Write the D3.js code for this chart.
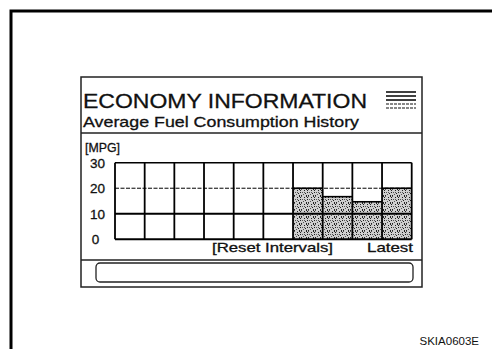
<!DOCTYPE html>
<html>
<head>
<meta charset="utf-8">
<script src="https://cdn.jsdelivr.net/npm/d3@7"></script>
<style>
  html, body { margin: 0; padding: 0; background: #fff; }
  svg { display: block; }
  text { font-family: "Liberation Sans", Arial, Helvetica, sans-serif; fill: #111; }
  text.ink { stroke: #111; stroke-width: 0.3; }
</style>
</head>
<body>
<script>
// Reset intervals shown on the history screen (oldest -> latest)
const intervals = ["1", "2", "3", "4", "5", "6", "7", "8", "9", "10"];
// Average fuel consumption per interval, MPG (0 = no record yet)
const mpgValues = [0, 0, 0, 0, 0, 0, 20, 16.7, 14.7, 20];
// Y axis ticks
const yTicks = [0, 10, 20, 30];
const yTickLabels = ["0", "10", "20", "30"];

const W = 492, H = 349;
const svg = d3.select("body").append("svg").attr("width", W).attr("height", H);

// Stipple texture for filled history bars
const defs = svg.append("defs");
const pat = defs.append("pattern").attr("id", "stipple")
  .attr("patternUnits", "userSpaceOnUse").attr("width", 7).attr("height", 7);
pat.append("rect").attr("width", 7).attr("height", 7).attr("fill", "#cfcfcf");
const dots = [[0,0],[3,1],[5,0],[1,3],[4,4],[6,3],[2,5],[5,6],[0,6],[3,3],[6,1]];
pat.selectAll("rect.d").data(dots).enter().append("rect").attr("class", "d")
  .attr("x", d => d[0]).attr("y", d => d[1]).attr("width", 1).attr("height", 1)
  .attr("fill", (d, i) => i % 3 === 0 ? "#555" : "#222");

// Page frame
svg.append("path").attr("d", "M11,349 V11 H492")
  .attr("fill", "none").attr("stroke", "#000").attr("stroke-width", 3);

// Display screen outline
svg.append("rect").attr("x", 81).attr("y", 77).attr("width", 341).attr("height", 210)
  .attr("fill", "none").attr("stroke", "#222").attr("stroke-width", 1.5);

// Header
svg.append("text").attr("class", "ink").attr("x", 83).attr("y", 108).attr("font-size", 20.5)
  .attr("textLength", 284).attr("lengthAdjust", "spacingAndGlyphs")
  .text("ECONOMY INFORMATION");
// menu icon
const iconY = [92, 96, 100, 104, 108];
svg.append("g").selectAll("line").data(iconY).enter().append("line")
  .attr("x1", 386).attr("x2", 416).attr("y1", d => d).attr("y2", d => d)
  .attr("stroke", "#111").attr("stroke-width", (d, i) => i < 3 ? 1.6 : 1.1)
  .attr("stroke-dasharray", (d, i) => i >= 3 ? "3,1" : null);

svg.append("text").attr("class", "ink").attr("x", 83).attr("y", 127).attr("font-size", 15)
  .attr("textLength", 276).attr("lengthAdjust", "spacingAndGlyphs")
  .text("Average Fuel Consumption History");

// Panel separators
svg.append("line").attr("x1", 81).attr("x2", 422).attr("y1", 133).attr("y2", 133)
  .attr("stroke", "#222").attr("stroke-width", 1.5);
svg.append("line").attr("x1", 81).attr("x2", 422).attr("y1", 260).attr("y2", 260)
  .attr("stroke", "#222").attr("stroke-width", 1.5);

// Progress bar
svg.append("rect").attr("x", 96).attr("y", 263).attr("width", 317).attr("height", 19)
  .attr("rx", 4).attr("fill", "none").attr("stroke", "#222").attr("stroke-width", 1.3);

// Chart scales
const x = d3.scaleBand().domain(intervals).range([115, 411.7]).paddingInner(0).paddingOuter(0);
const y = d3.scaleLinear().domain([0, 30]).range([239.3, 162.7]);

const chart = svg.append("g");
const filled = intervals.map((c, i) => ({c, v: mpgValues[i]})).filter(d => d.v > 0);

// Bars
chart.selectAll("rect.bar").data(filled)
  .enter().append("rect").attr("class", "bar")
  .attr("x", d => x(d.c)).attr("width", x.bandwidth())
  .attr("y", d => y(d.v)).attr("height", d => y(0) - y(d.v))
  .attr("fill", "url(#stipple)");

// Horizontal grid
chart.selectAll("line.h").data(yTicks).enter().append("line").attr("class", "h")
  .attr("x1", x.range()[0]).attr("x2", x.range()[1])
  .attr("y1", d => y(d)).attr("y2", d => y(d))
  .attr("stroke", "#000")
  .attr("stroke-width", d => d === 20 ? 1 : (d === 30 ? 1.5 : 2))
  .attr("stroke-dasharray", d => d === 20 ? "4,1.5" : null);

// Vertical grid
const vx = intervals.map(c => x(c)).concat([x.range()[1]]);
chart.selectAll("line.v").data(vx).enter().append("line").attr("class", "v")
  .attr("x1", d => d).attr("x2", d => d).attr("y1", y(30)).attr("y2", y(0))
  .attr("stroke", "#000").attr("stroke-width", 1.8);

// Bar top edges
chart.selectAll("line.top").data(filled)
  .enter().append("line").attr("class", "top")
  .attr("x1", d => x(d.c)).attr("x2", d => x(d.c) + x.bandwidth())
  .attr("y1", d => y(d.v)).attr("y2", d => y(d.v))
  .attr("stroke", "#000").attr("stroke-width", 1.6);

// Y tick labels
chart.selectAll("text.yt").data(yTicks).enter().append("text").attr("class", "yt ink")
  .attr("x", d => d === 0 ? 95.5 : 97.5).attr("y", d => y(d) + 4.8)
  .attr("text-anchor", "middle").attr("font-size", 13.5)
  .text((d, i) => yTickLabels[i]);

svg.append("text").attr("class", "ink").attr("x", 85).attr("y", 152).attr("font-size", 13)
  .attr("textLength", 35).attr("lengthAdjust", "spacingAndGlyphs").text("[MPG]");
svg.append("text").attr("class", "ink").attr("x", 212).attr("y", 252).attr("font-size", 13)
  .attr("textLength", 121).attr("lengthAdjust", "spacingAndGlyphs").text("[Reset Intervals]");
svg.append("text").attr("class", "ink").attr("x", 367).attr("y", 252).attr("font-size", 13)
  .attr("textLength", 46).attr("lengthAdjust", "spacingAndGlyphs").text("Latest");

// Figure code
svg.append("text").attr("x", 479).attr("y", 345).attr("font-size", 11.5)
  .attr("text-anchor", "end").text("SKIA0603E");
</script>
</body>
</html>
